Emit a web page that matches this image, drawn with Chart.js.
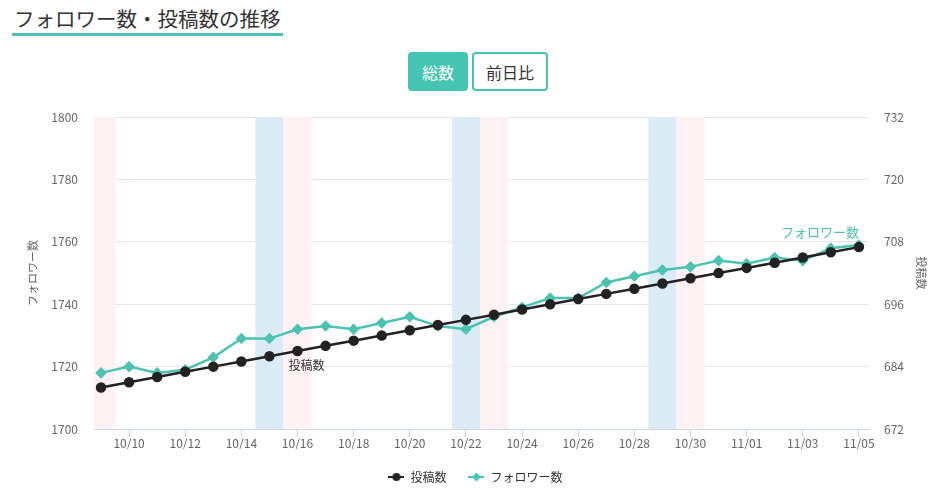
<!DOCTYPE html>
<html lang="ja">
<head>
<meta charset="utf-8">
<title>フォロワー数・投稿数の推移</title>
<script src="https://cdn.jsdelivr.net/npm/chart.js@4.4.1/dist/chart.umd.min.js"></script>
<style>
  body { margin: 0; background: #fff; font-family: "Noto Sans CJK JP", "Noto Sans", sans-serif; }
  .wrap { position: relative; width: 951px; height: 493px; overflow: hidden; }
  h2 {
    position: absolute; left: 12px; top: 4px; margin: 0; padding: 0 2px 1px 2px;
    font-size: 20.5px; font-weight: normal; color: #333;
    border-bottom: 3px solid #4cc3b2; line-height: 28px;
  }
  .btns { position: absolute; left: 408px; top: 52px; display: flex; gap: 4px; z-index: 1; }
  .btns button {
    height: 39px; font-family: inherit; font-size: 16px; border-radius: 4px;
    border: 2px solid #45c4b1; background: #fff; color: #333; padding: 0;
  }
  .btns .active { background: #45c4b1; color: #fff; width: 60px; }
  .btns .plain { width: 76px; }
  .chart-box { position: absolute; left: 0; top: 94px; width: 951px; height: 399px; }
</style>
</head>
<body>
<div class="wrap">
  <h2>フォロワー数・投稿数の推移</h2>
  <div class="btns">
    <button class="active">総数</button>
    <button class="plain">前日比</button>
  </div>
  <div class="chart-box"><canvas id="trendChart"></canvas></div>
</div>
<script>
// --- data ---
const dates = ["10/09", "10/10", "10/11", "10/12", "10/13", "10/14", "10/15", "10/16", "10/17", "10/18",
  "10/19", "10/20", "10/21", "10/22", "10/23", "10/24", "10/25", "10/26", "10/27", "10/28",
  "10/29", "10/30", "10/31", "11/01", "11/02", "11/03", "11/04", "11/05"];
const followers = [1718, 1720, 1718, 1719, 1723, 1729, 1729, 1732, 1733, 1732,
  1734, 1736, 1733, 1732, 1736, 1739, 1742, 1742, 1747, 1749,
  1751, 1752, 1754, 1753, 1755, 1754, 1758, 1759];
const posts = [680, 681, 682, 683, 684, 685, 686, 687, 688, 689,
  690, 691, 692, 693, 694, 695, 696, 697, 698, 699,
  700, 701, 702, 703, 704, 705, 706, 707];
const saturdays = ["10/15", "10/22", "10/29"];
const sundays = ["10/09", "10/16", "10/23", "10/30"];
const xTickDates = ["10/10", "10/12", "10/14", "10/16", "10/18", "10/20", "10/22", "10/24", "10/26",
  "10/28", "10/30", "11/01", "11/03", "11/05"];
const followerTicks = [1700, 1720, 1740, 1760, 1780, 1800];
const postTicks = [672, 684, 696, 708, 720, 732];

const TEAL = "#4cc3b2";
const DARK = "#222222";

Chart.defaults.font.family = "'Noto Sans CJK JP', 'Noto Sans', sans-serif";
Chart.defaults.color = "#666";

// legend markers: short line with the point on it
function legendMarker(color, shape) {
  const c = document.createElement("canvas");
  c.width = 16; c.height = 12;
  const g = c.getContext("2d");
  g.strokeStyle = color; g.fillStyle = color; g.lineWidth = 2;
  g.beginPath(); g.moveTo(0, 6); g.lineTo(16, 6); g.stroke();
  g.beginPath();
  if (shape === "circle") {
    g.arc(8, 6, 4, 0, Math.PI * 2);
  } else {
    g.moveTo(8, 1.5); g.lineTo(12.5, 6); g.lineTo(8, 10.5); g.lineTo(3.5, 6); g.closePath();
  }
  g.fill();
  return c;
}
const markers = [legendMarker(DARK, "circle"), legendMarker(TEAL, "diamond")];

// weekend bands behind the lines
const weekendBands = {
  id: "weekendBands",
  beforeDatasetsDraw(chart) {
    const { ctx, chartArea, scales } = chart;
    const x = scales.x;
    const paint = (list, color) => {
      list.forEach(d => {
        const i = dates.indexOf(d);
        const l = Math.max(x.getPixelForValue(i - 0.5), chartArea.left);
        const r = Math.min(x.getPixelForValue(i + 0.5), chartArea.right);
        ctx.fillStyle = color;
        ctx.fillRect(l, chartArea.top, r - l, chartArea.bottom - chartArea.top);
      });
    };
    ctx.save();
    paint(saturdays, "#dcecf7");
    paint(sundays, "#fff1f4");
    ctx.restore();
  }
};

// series name labels next to the lines
const seriesLabels = {
  id: "seriesLabels",
  afterDatasetsDraw(chart) {
    const { ctx, scales } = chart;
    ctx.save();
    ctx.font = "12px 'Noto Sans CJK JP', sans-serif";
    ctx.textBaseline = "middle";

    const pi = dates.indexOf("10/16");
    ctx.fillStyle = "#333";
    ctx.textAlign = "left";
    ctx.fillText("投稿数", scales.x.getPixelForValue(pi) - 9, scales.y2.getPixelForValue(posts[pi]) + 14);

    const fi = followers.length - 1;
    ctx.fillStyle = TEAL;
    ctx.textAlign = "right";
    ctx.font = "13px 'Noto Sans CJK JP', sans-serif";
    ctx.fillText("フォロワー数", scales.x.getPixelForValue(fi), scales.y.getPixelForValue(followers[fi]) - 13);
    ctx.restore();
  }
};

new Chart(document.getElementById("trendChart"), {
  type: "line",
  data: {
    datasets: [
      {
        label: "投稿数",
        data: posts.map((v, i) => ({ x: i, y: v })),
        yAxisID: "y2",
        borderColor: DARK,
        backgroundColor: DARK,
        borderWidth: 2.5,
        pointStyle: "circle",
        pointRadius: 4,
        pointHoverRadius: 4,
        tension: 0
      },
      {
        label: "フォロワー数",
        data: followers.map((v, i) => ({ x: i, y: v })),
        yAxisID: "y",
        borderColor: TEAL,
        backgroundColor: TEAL,
        borderWidth: 2.5,
        pointStyle: "rectRot",
        pointRadius: 4,
        pointHoverRadius: 4,
        tension: 0
      }
    ]
  },
  options: {
    responsive: true,
    maintainAspectRatio: false,
    animation: false,
    layout: { padding: { top: 5, left: 0, right: 0, bottom: 0 } },
    scales: {
      x: {
        type: "linear",
        min: -0.25,
        max: 27.36,
        afterBuildTicks(scale) {
          scale.ticks = xTickDates.map(d => ({ value: dates.indexOf(d) }));
        },
        afterFit(scale) { scale.height = 20; },
        ticks: {
          autoSkip: false,
          maxRotation: 0,
          padding: -1,
          font: { size: 12 },
          callback: v => dates[v]
        },
        grid: { drawOnChartArea: false, color: "#ccd6eb", tickLength: 8 },
        border: { color: "#ccd6eb" }
      },
      y: {
        position: "left",
        min: 1700,
        max: 1800,
        afterBuildTicks(scale) { scale.ticks = followerTicks.map(v => ({ value: v })); },
        afterFit(scale) { scale.width = 94; },
        ticks: { padding: 16, font: { size: 12 }, callback: v => String(v) },
        grid: { color: "#e6e6e6", drawTicks: false },
        border: { display: false },
        title: { display: true, text: "フォロワー数", font: { size: 11 }, padding: { top: 26, bottom: 0 } }
      },
      y2: {
        position: "right",
        min: 672,
        max: 732,
        afterBuildTicks(scale) { scale.ticks = postTicks.map(v => ({ value: v })); },
        afterFit(scale) { scale.width = 82; },
        ticks: { padding: 15, font: { size: 12 }, callback: v => String(v) },
        grid: { drawOnChartArea: false, drawTicks: false },
        border: { display: false },
        title: { display: true, text: "投稿数", font: { size: 11 }, padding: { top: 23, bottom: 0 } }
      }
    },
    plugins: {
      legend: {
        position: "bottom",
        labels: {
          usePointStyle: true,
          pointStyleWidth: 16,
          padding: 22,
          color: "#333",
          font: { size: 12 },
          generateLabels(chart) {
            const items = Chart.defaults.plugins.legend.labels.generateLabels(chart);
            items.forEach(it => { it.pointStyle = markers[it.datasetIndex]; });
            return items;
          }
        }
      },
      tooltip: { enabled: false }
    }
  },
  plugins: [weekendBands, seriesLabels]
});
</script>
</body>
</html>
